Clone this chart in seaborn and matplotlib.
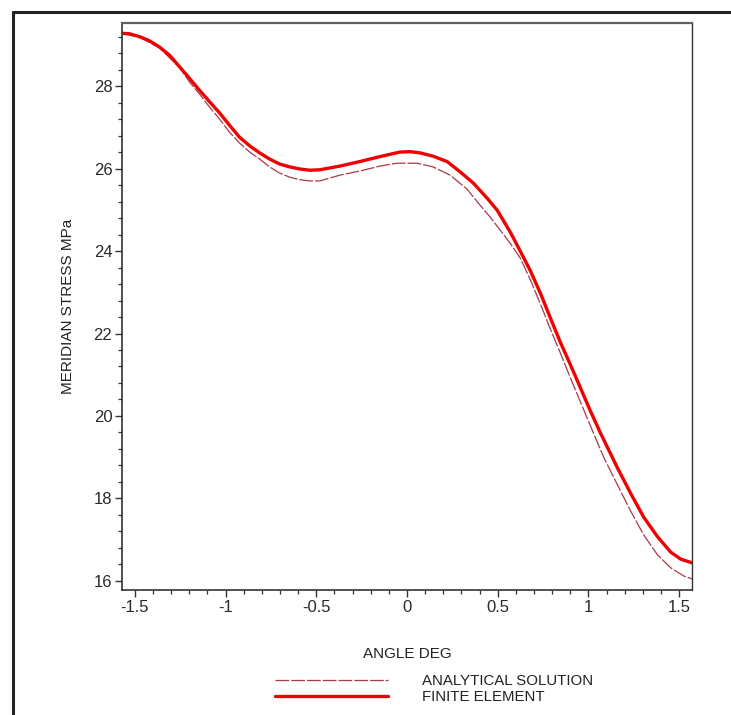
import numpy as np
import pandas as pd
import matplotlib
matplotlib.use("Agg")
import matplotlib.pyplot as plt
from matplotlib.lines import Line2D
from matplotlib.ticker import MultipleLocator
import seaborn as sns

# ---- data ----
fe_angle = [-1.5708, -1.530, -1.475, -1.420, -1.365, -1.309, -1.254, -1.199,
            -1.144, -1.088, -1.033, -0.978, -0.923, -0.867, -0.812, -0.757,
            -0.702, -0.646, -0.591, -0.536, -0.481, -0.370, -0.260, -0.149,
            -0.039, 0.017, 0.072, 0.144, 0.221, 0.293, 0.365, 0.442, 0.497,
            0.569, 0.624, 0.680, 0.735, 0.790, 0.845, 0.901, 0.956, 1.011,
            1.066, 1.160, 1.232, 1.304, 1.381, 1.453, 1.508, 1.5708]
fe_stress = [29.28, 29.27, 29.20, 29.10, 28.95, 28.75, 28.47, 28.19,
             27.90, 27.62, 27.35, 27.05, 26.76, 26.55, 26.38, 26.23,
             26.11, 26.04, 25.99, 25.96, 25.97, 26.06, 26.17, 26.29,
             26.40, 26.41, 26.38, 26.30, 26.17, 25.92, 25.65, 25.28, 24.99,
             24.46, 24.00, 23.52, 22.98, 22.38, 21.79, 21.24, 20.68, 20.12,
             19.59, 18.74, 18.13, 17.55, 17.07, 16.70, 16.53, 16.44]

an_angle = [-1.5708, -1.475, -1.365, -1.254, -1.199, -1.144, -1.088, -1.033,
            -0.978, -0.923, -0.867, -0.812, -0.757, -0.702, -0.646, -0.591,
            -0.536, -0.481, -0.370, -0.260, -0.149, -0.055, 0.055, 0.144,
            0.238, 0.331, 0.403, 0.459, 0.569, 0.624, 0.680, 0.735, 0.790,
            0.845, 0.901, 0.956, 1.011, 1.083, 1.160, 1.232, 1.304, 1.381,
            1.453, 1.525, 1.5708]
an_stress = [29.27, 29.19, 28.93, 28.45, 28.10, 27.81, 27.49, 27.20,
             26.88, 26.62, 26.40, 26.23, 26.04, 25.89, 25.79, 25.73,
             25.70, 25.70, 25.84, 25.94, 26.06, 26.13, 26.13, 26.04,
             25.84, 25.50, 25.11, 24.82, 24.19, 23.83, 23.30, 22.72, 22.11,
             21.53, 20.92, 20.34, 19.76, 19.01, 18.33, 17.70, 17.12, 16.63,
             16.32, 16.12, 16.05]

x_ticks = [-1.5, -1, -0.5, 0, 0.5, 1, 1.5]
x_tick_labels = ["-1.5", "-1", "-0.5", "0", "0.5", "1", "1.5"]
y_ticks = [16, 18, 20, 22, 24, 26, 28]

series_names = ["ANALYTICAL SOLUTION", "FINITE ELEMENT"]

# ---- style ----
sns.set_style("ticks")
plt.rcParams["font.family"] = ["Liberation Sans", "DejaVu Sans"]

W, H = 731, 715
fig = plt.figure(figsize=(W / 100, H / 100), dpi=100)
ax = fig.add_axes([122 / W, 1 - 590 / H, (692 - 122) / W, (590 - 23) / H])

df_an = pd.DataFrame({"angle": an_angle, "stress": an_stress})
df_fe = pd.DataFrame({"angle": fe_angle, "stress": fe_stress})

sns.lineplot(data=df_an, x="angle", y="stress", ax=ax, color="#a8394a",
             lw=0.9, linestyle=(0, (11, 1.6)), label=series_names[0],
             sort=False, estimator=None)
sns.lineplot(data=df_fe, x="angle", y="stress", ax=ax, color="#f00000",
             lw=2.4, label=series_names[1], sort=False, estimator=None)

ax.set_xlim(-np.pi / 2, np.pi / 2)
ax.set_ylim(15.78, 29.53)
ax.set_xticks(x_ticks)
ax.set_xticklabels(x_tick_labels)
ax.set_yticks(y_ticks)
ax.xaxis.set_minor_locator(MultipleLocator(0.1))
ax.yaxis.set_minor_locator(MultipleLocator(0.4))

ax.tick_params(which="major", direction="out", length=5, width=1,
               color="#333333", labelsize=12, labelcolor="#2a2a2a", pad=2)
ax.tick_params(which="minor", direction="out", length=3, width=0.9,
               color="#333333")

for side in ["left", "bottom"]:
    ax.spines[side].set_color("#333333")
    ax.spines[side].set_linewidth(1.2)
ax.spines["top"].set_color("#606060")
ax.spines["top"].set_linewidth(1.6)
ax.spines["right"].set_color("#333333")
ax.spines["right"].set_linewidth(1.0)

ax.set_xlabel("ANGLE DEG", fontsize=11, color="#222222")
ax.set_ylabel("MERIDIAN STRESS MPa", fontsize=11, color="#222222")
ax.xaxis.set_label_coords(0.5, -0.100)
ax.yaxis.set_label_coords(-0.083, 0.5)

leg = ax.legend(loc="upper left",
                bbox_to_anchor=(275 / W, 1 - 674 / H),
                bbox_transform=fig.transFigure,
                frameon=False, fontsize=10.8, handlelength=7.5,
                handletextpad=2.3, labelspacing=0.12, borderpad=0,
                borderaxespad=0)
for t in leg.get_texts():
    t.set_color("#222222")

# outer frame (partially visible)
fig.add_artist(Line2D([12.5 / W, 12.5 / W], [0, 1 - 11.5 / H],
                      transform=fig.transFigure, color="#222222", lw=2.2))
fig.add_artist(Line2D([12.5 / W, 1], [1 - 11.5 / H, 1 - 11.5 / H],
                      transform=fig.transFigure, color="#222222", lw=2.2))

fig.savefig("out.png", dpi=100, facecolor="white")
